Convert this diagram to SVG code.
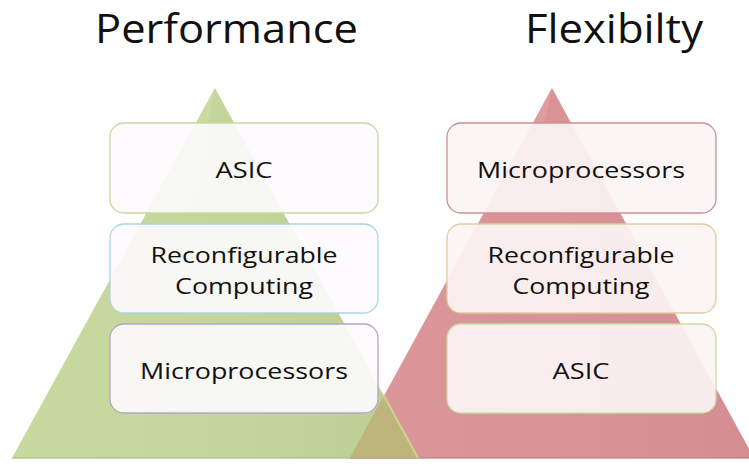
<svg xmlns="http://www.w3.org/2000/svg" width="749" height="466" viewBox="0 0 749 466">
  <defs>
    <linearGradient id="gGreen" x1="0" y1="0" x2="1" y2="0">
      <stop offset="0" stop-color="#c8da9f"/>
      <stop offset="0.55" stop-color="#c3d59b"/>
      <stop offset="1" stop-color="#bccf93"/>
    </linearGradient>
    <linearGradient id="gRed" x1="0" y1="0" x2="1" y2="0">
      <stop offset="0" stop-color="#dc979a"/>
      <stop offset="0.55" stop-color="#d99396"/>
      <stop offset="1" stop-color="#d48d90"/>
    </linearGradient>
    <filter id="soft" x="-5%" y="-5%" width="110%" height="110%">
      <feGaussianBlur stdDeviation="0.6"/>
    </filter>
  </defs>
  <style>
    .title { font-family: "Open Sans", "Liberation Sans", sans-serif; font-size: 40px; fill: #111111; }
    .lbl { font-family: "Open Sans", "Liberation Sans", sans-serif; font-size: 22px; fill: #111111; text-anchor: middle; }
    .box { stroke-width: 1.3; }
    .boxL { fill: #fdfbfd; fill-opacity: 0.9; }
    .boxR { fill: #fcf4f4; fill-opacity: 0.92; }
  </style>

  <rect width="749" height="466" fill="#ffffff"/>

  <!-- titles -->
  <text class="title" x="95" y="43" textLength="263" lengthAdjust="spacingAndGlyphs">Performance</text>
  <text class="title" x="525" y="43" textLength="178" lengthAdjust="spacingAndGlyphs">Flexibilty</text>

  <!-- pyramids -->
  <g id="pyramid-performance">
    <polygon points="215,88 12,458 418,458" fill="url(#gGreen)" filter="url(#soft)"/>
    <polygon points="215,88 150,206 190,206" fill="#cfe0a8" opacity="0.5"/>
    <line x1="12" y1="458" x2="418" y2="458" stroke="#aabd82" stroke-width="2" opacity="0.6"/>
  </g>
  <g id="pyramid-flexibility">
    <polygon points="552,88 350,458 754,458" fill="url(#gRed)" filter="url(#soft)"/>
    <polygon points="552,88 487,206 527,206" fill="#e3a6a8" opacity="0.5"/>
    <line x1="350" y1="458" x2="749" y2="458" stroke="#c07c7f" stroke-width="2" opacity="0.6"/>
    <!-- overlap of the two pyramids -->
    <polygon points="384,396 350,458 418,458" fill="#bdb57c" filter="url(#soft)"/>
    <line x1="384" y1="396" x2="418" y2="458" stroke="#d3dc95" stroke-width="2" opacity="0.8"/>
  </g>

  <!-- left stack -->
  <g id="left-asic">
    <rect class="box boxL" x="110" y="123" width="268" height="90" rx="14" stroke="#c9d7a0"/>
    <text class="lbl" x="244" y="178" textLength="57" lengthAdjust="spacingAndGlyphs">ASIC</text>
  </g>
  <g id="left-reconfigurable">
    <rect class="box boxL" x="110" y="224" width="268" height="89" rx="14" stroke="#a9d5e2"/>
    <text class="lbl" x="244" y="263" textLength="187" lengthAdjust="spacingAndGlyphs">Reconfigurable</text>
    <text class="lbl" x="244" y="294" textLength="138" lengthAdjust="spacingAndGlyphs">Computing</text>
  </g>
  <g id="left-microprocessors">
    <rect class="box boxL" x="110" y="324" width="268" height="89" rx="14" stroke="#b4a6c9"/>
    <text class="lbl" x="244" y="379" textLength="208" lengthAdjust="spacingAndGlyphs">Microprocessors</text>
  </g>

  <!-- right stack -->
  <g id="right-microprocessors">
    <rect class="box boxR" x="447" y="123" width="269" height="90" rx="14" stroke="#cf8f92"/>
    <text class="lbl" x="581" y="178" textLength="208" lengthAdjust="spacingAndGlyphs">Microprocessors</text>
  </g>
  <g id="right-reconfigurable">
    <rect class="box boxR" x="447" y="224" width="269" height="89" rx="14" stroke="#dccda0"/>
    <text class="lbl" x="581" y="263" textLength="187" lengthAdjust="spacingAndGlyphs">Reconfigurable</text>
    <text class="lbl" x="581" y="294" textLength="137" lengthAdjust="spacingAndGlyphs">Computing</text>
  </g>
  <g id="right-asic">
    <rect class="box boxR" x="447" y="324" width="269" height="89" rx="14" stroke="#c9dca2"/>
    <text class="lbl" x="581" y="379" textLength="57" lengthAdjust="spacingAndGlyphs">ASIC</text>
  </g>

  <g id="connectors"/>
</svg>
